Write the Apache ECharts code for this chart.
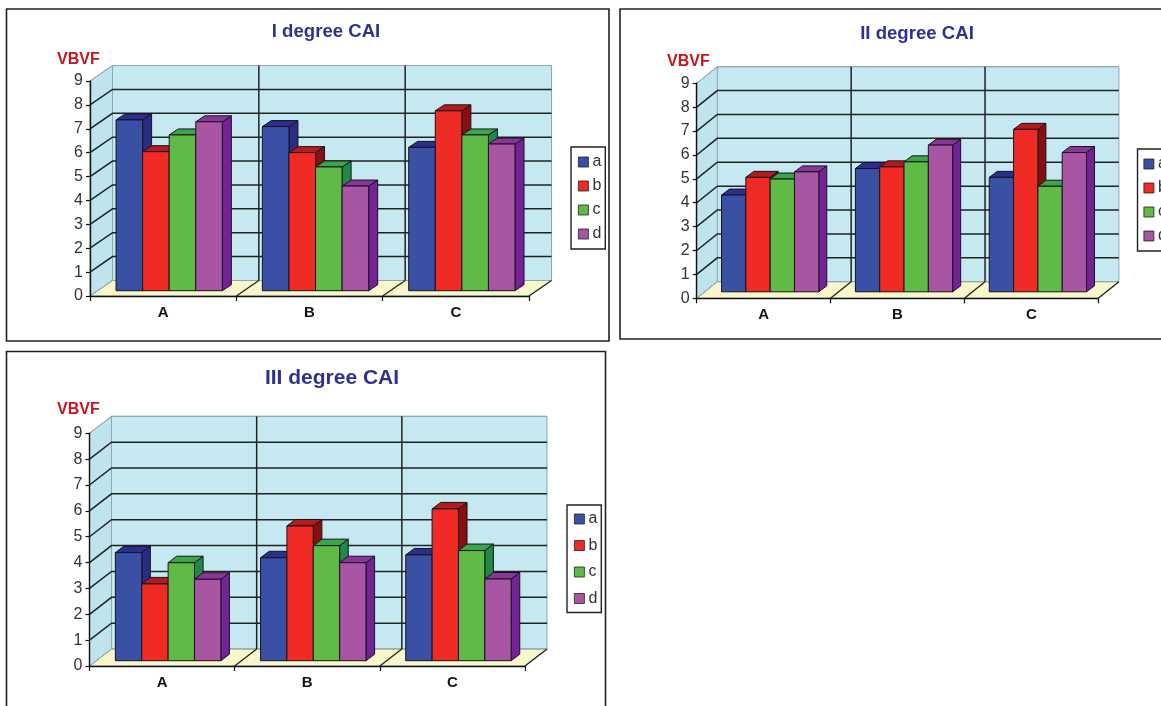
<!DOCTYPE html>
<html>
<head>
<meta charset="utf-8">
<style>html,body{margin:0;padding:0;background:#fff;overflow:hidden}#c{width:1161px;height:706px}</style>
<script src="https://cdn.jsdelivr.net/npm/echarts@6/dist/echarts.min.js"></script>
</head>
<body>
<div id="c"></div>
<script>
const categories = ['A', 'B', 'C'];
const seriesNames = ['a', 'b', 'c', 'd'];
const yTicks = [0, 1, 2, 3, 4, 5, 6, 7, 8, 9];
const panelTitles = ['I degree CAI', 'II degree CAI', 'III degree CAI'];
const yName = 'VBVF';

const degree1a = [7.15, 6.87, 6.00];
const degree1b = [5.82, 5.78, 7.53];
const degree1c = [6.52, 5.18, 6.52];
const degree1d = [7.07, 4.38, 6.14];

const degree2a = [4.05, 5.16, 4.79];
const degree2b = [4.79, 5.23, 6.80];
const degree2c = [4.72, 5.44, 4.42];
const degree2d = [5.02, 6.14, 5.83];

const degree3a = [4.18, 3.98, 4.09];
const degree3b = [2.97, 5.21, 5.87];
const degree3c = [3.79, 4.45, 4.26];
const degree3d = [3.15, 3.79, 3.16];

const panelValues = [
  [degree1a, degree1b, degree1c, degree1d],
  [degree2a, degree2b, degree2c, degree2d],
  [degree3a, degree3b, degree3c, degree3d]
];

const faceColors = [
  { front: '#3a50a5', top: '#2b2e8c', side: '#282c82' },
  { front: '#f02a24', top: '#b51b1b', side: '#85100f' },
  { front: '#5fbb46', top: '#3aa648', side: '#1f8a45' },
  { front: '#a855a3', top: '#8a359a', side: '#742396' }
];

const layouts = [
  { grid: { left: 90, top: 81, width: 439, height: 215 }, dx: 22.5, dy: 15.5, shiftX: 6, shiftY: 5.3, bdx: 9, bdy: 6,
    titleX: 326, titleTop: 22, titleSize: 18.6, nameX: 57, nameTop: 52, nameSize: 16,
    legend: { left: 571, top: 147, gap: 8, pad: [7, 4, 7, 7] } },
  { grid: { left: 696.7, top: 83.3, width: 401.6, height: 215 }, dx: 20.6, dy: 16.6, shiftX: 6.5, shiftY: 6.5, bdx: 8, bdy: 6,
    titleX: 917, titleTop: 24, titleSize: 18.6, nameX: 667, nameTop: 54, nameSize: 16,
    legend: { left: 1137.5, top: 149, gap: 8, pad: [7, 4, 7, 6] } },
  { grid: { left: 89.5, top: 433.3, width: 435.5, height: 232.7 }, dx: 22, dy: 17, shiftX: 6, shiftY: 5.3, bdx: 8.6, bdy: 6.5,
    titleX: 332, titleTop: 368, titleSize: 21, nameX: 57, nameTop: 402, nameSize: 16,
    legend: { left: 567, top: 505, gap: 10.5, pad: [6, 4, 6, 7] } }
];

const frames = [
  { x: 6.5, y: 9, width: 602.5, height: 332 },
  { x: 620, y: 9, width: 560, height: 330 },
  { x: 6.5, y: 351.5, width: 599, height: 380 }
];

const DARK = '#222';
const EDGE = '#8fa8ae';

function wallsItem(p) {
  return function (params, api) {
    const r = params.coordSys, L = p;
    const x0 = r.x, x1 = r.x + r.width, yT = r.y, yB = r.y + r.height;
    return { type: 'group', children: [
      { type: 'polygon', shape: { points: [[x0 + L.dx, yT - L.dy], [x1 + L.dx, yT - L.dy], [x1 + L.dx, yB - L.dy], [x0 + L.dx, yB - L.dy]] },
        style: { fill: '#c6e8f0', stroke: EDGE, lineWidth: 1 } },
      { type: 'polygon', shape: { points: [[x0, yT], [x0 + L.dx, yT - L.dy], [x0 + L.dx, yB - L.dy], [x0, yB]] },
        style: { fill: '#bfe4ee', stroke: EDGE, lineWidth: 1 } },
      { type: 'polygon', shape: { points: [[x0, yB], [x1, yB], [x1 + L.dx, yB - L.dy], [x0 + L.dx, yB - L.dy]] },
        style: { fill: '#f8f6cb', stroke: EDGE, lineWidth: 1 } }
    ] };
  };
}

function gridLineItem(p) {
  return function (params, api) {
    const r = params.coordSys, t = api.value(1), y = api.coord([0, t])[1];
    const inner = t > 0 && t < 9;
    return { type: 'polyline',
      shape: { points: [[r.x, y], [r.x + p.dx, y - p.dy], [r.x + r.width + p.dx, y - p.dy]] },
      style: { fill: 'none', stroke: inner ? DARK : EDGE, lineWidth: inner ? 1.5 : 1 } };
  };
}

function dividerItem(p) {
  return function (params, api) {
    const r = params.coordSys, i = api.value(0);
    const band = api.size([1, 0])[0];
    const x = api.coord([i, 0])[0] + band / 2, yB = r.y + r.height;
    return { type: 'group', children: [
      { type: 'line', shape: { x1: x + p.dx, y1: r.y - p.dy, x2: x + p.dx, y2: yB - p.dy }, style: { stroke: DARK, lineWidth: i < categories.length - 1 ? 1.5 : 0 } },
      { type: 'line', shape: { x1: x, y1: yB, x2: x + p.dx, y2: yB - p.dy }, style: { stroke: DARK, lineWidth: 1.3 } }
    ] };
  };
}

function barItem(p, s) {
  const c = faceColors[s];
  return function (params, api) {
    const i = api.value(0), v = api.value(1);
    const band = api.size([1, 0])[0];
    const w = band * 0.1816;
    const cx = api.coord([i, 0])[0] + p.shiftX;
    const xa = cx - band * 0.363 + s * w, xb = xa + w;
    const yb = api.coord([i, 0])[1] - p.shiftY;
    const yt = api.coord([i, v])[1] - p.shiftY;
    const st = { stroke: '#1a1220', lineWidth: 1, lineJoin: 'round' };
    return { type: 'group', children: [
      { type: 'polygon', shape: { points: [[xb, yt], [xb + p.bdx, yt - p.bdy], [xb + p.bdx, yb - p.bdy], [xb, yb]] },
        style: Object.assign({ fill: c.side }, st) },
      { type: 'polygon', shape: { points: [[xa, yt], [xa + p.bdx, yt - p.bdy], [xb + p.bdx, yt - p.bdy], [xb, yt]] },
        style: Object.assign({ fill: c.top }, st) },
      { type: 'rect', shape: { x: xa, y: yt, width: w, height: yb - yt },
        style: Object.assign({ fill: c.front }, st) }
    ] };
  };
}

const grids = [], xAxes = [], yAxes = [], series = [], titles = [], legends = [];

layouts.forEach(function (p, k) {
  grids.push(Object.assign({ containLabel: false }, p.grid));
  xAxes.push({
    type: 'category', gridIndex: k, data: categories, z: 3,
    axisLine: { show: true, lineStyle: { color: '#111', width: 1.4 } },
    axisTick: { show: true, length: 5, alignWithLabel: false, lineStyle: { color: '#111', width: 1.2 } },
    splitLine: { show: false },
    axisLabel: { show: true, interval: 0, margin: 9, fontFamily: 'Liberation Sans', fontSize: 15, fontWeight: 'bold', color: '#111' }
  });
  yAxes.push({
    type: 'value', gridIndex: k, min: 0, max: 9, interval: 1, z: 3,
    axisLine: { show: true, lineStyle: { color: '#111', width: 1.4 } },
    axisTick: { show: true, length: 4, lineStyle: { color: '#111', width: 1.2 } },
    splitLine: { show: false },
    axisLabel: { show: true, margin: 7, fontFamily: 'Liberation Sans', fontSize: 16, color: '#333' }
  });
  const axes = { xAxisIndex: k, yAxisIndex: k, encode: { x: 0, y: 1 }, silent: true, tooltip: { show: false } };
  series.push(Object.assign({ type: 'custom', renderItem: wallsItem(p), data: [[0, 0]] }, axes));
  series.push(Object.assign({ type: 'custom', renderItem: gridLineItem(p), data: yTicks.map(function (t) { return [0, t]; }) }, axes));
  series.push(Object.assign({ type: 'custom', renderItem: dividerItem(p), data: categories.map(function (c, i) { return [i, 0]; }) }, axes));
  seriesNames.forEach(function (name, s) {
    series.push(Object.assign({
      type: 'custom', name: name, renderItem: barItem(p, s),
      itemStyle: { color: faceColors[s].front },
      data: panelValues[k][s].map(function (v, i) { return [i, v]; })
    }, axes));
  });
  titles.push({ text: panelTitles[k], left: p.titleX, top: p.titleTop, textAlign: 'center', padding: 0,
    textStyle: { fontFamily: 'Liberation Sans', fontSize: p.titleSize, fontWeight: 'bold', color: '#2e3192' } });
  titles.push({ text: yName, left: p.nameX, top: p.nameTop, padding: 0,
    textStyle: { fontFamily: 'Liberation Sans', fontSize: p.nameSize, fontWeight: 'bold', color: '#c4161c' } });
  legends.push({
    orient: 'vertical', left: p.legend.left, top: p.legend.top, padding: p.legend.pad,
    itemWidth: 10, itemHeight: 10, itemGap: p.legend.gap, icon: 'rect', selectedMode: false,
    data: seriesNames, borderColor: '#222', borderWidth: 1.4, backgroundColor: '#fff',
    itemStyle: { borderColor: '#222', borderWidth: 0.8 },
    textStyle: { fontFamily: 'Liberation Sans', fontSize: 16, color: '#333', padding: [0, 0, 0, -1] }
  });
});

const chart = echarts.init(document.getElementById('c'), null, { renderer: 'canvas' });
chart.setOption({
  animation: false,
  backgroundColor: '#fff',
  title: titles,
  legend: legends,
  grid: grids,
  xAxis: xAxes,
  yAxis: yAxes,
  series: series,
  graphic: frames.map(function (f) {
    return { type: 'rect', silent: true, z: -1, shape: f, style: { fill: 'none', stroke: '#222', lineWidth: 1.6 } };
  })
});
</script>
</body>
</html>
